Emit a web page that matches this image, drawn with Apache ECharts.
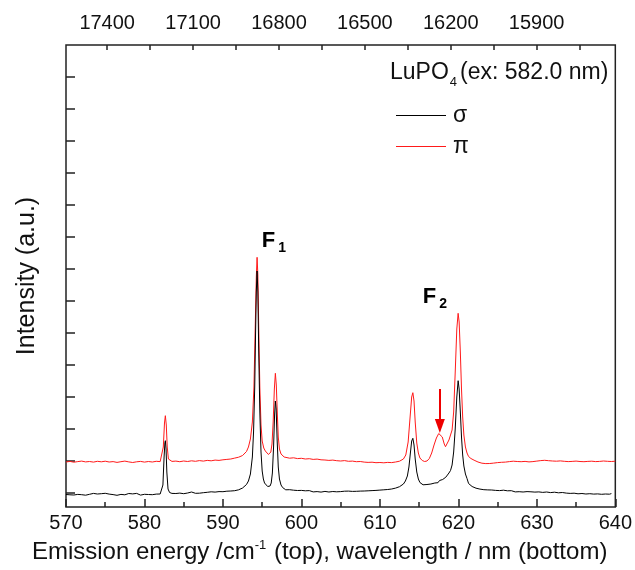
<!DOCTYPE html>
<html>
<head>
<meta charset="utf-8">
<script src="https://cdn.jsdelivr.net/npm/echarts@6/dist/echarts.min.js"></script>
<style>html,body{margin:0;padding:0;background:#fff}#c{width:635px;height:570px}</style>
</head>
<body>
<div id="c"></div>
<script>
// ---- data ----
const sigmaX = [570,570.25,570.5,570.75,571,571.25,571.5,571.75,572,572.25,572.5,572.75,573,573.25,573.5,573.75,574,574.25,574.5,574.75,575,575.25,575.5,575.75,576,576.25,576.5,576.75,577,577.25,577.5,577.75,578,578.25,578.5,578.75,579,579.25,579.5,579.75,580,580.25,580.5,580.75,581,581.25,581.5,581.75,582,582.2,582.35,582.5,582.6,582.66,582.75,582.85,583,583.2,583.5,583.75,584,584.25,584.5,584.75,585,585.25,585.5,585.75,586,586.25,586.5,586.75,587,587.25,587.5,587.75,588,588.25,588.5,588.75,589,589.25,589.5,589.75,590,590.25,590.5,590.75,591,591.25,591.5,591.75,592,592.25,592.5,592.75,593,593.25,593.5,593.75,593.9,594.05,594.15,594.25,594.35,594.45,594.55,594.7,594.85,595,595.15,595.3,595.5,595.7,595.85,596,596.15,596.3,596.45,596.58,596.68,596.78,596.9,597.05,597.2,597.4,597.6,597.8,598,598.25,598.5,598.75,599,599.25,599.5,599.75,600,600.25,600.5,600.75,601,601.25,601.5,601.75,602,602.25,602.5,602.75,603,603.25,603.5,603.75,604,604.25,604.5,604.75,605,605.25,605.5,605.75,606,606.25,606.5,606.75,607,607.25,607.5,607.75,608,608.25,608.5,608.75,609,609.25,609.5,609.75,610,610.25,610.5,610.75,611,611.25,611.5,611.75,612,612.25,612.5,612.75,613,613.25,613.5,613.7,613.9,614.05,614.2,614.35,614.5,614.7,614.9,615.1,615.3,615.5,615.75,616,616.25,616.5,616.75,617,617.2,617.4,617.6,617.8,618,618.2,618.4,618.6,618.8,619,619.2,619.4,619.6,619.8,619.97,620.1,620.25,620.4,620.55,620.7,620.9,621.1,621.3,621.5,621.75,622,622.25,622.5,622.75,623,623.25,623.5,623.75,624,624.25,624.5,624.75,625,625.25,625.5,625.75,626,626.25,626.5,626.75,627,627.25,627.5,627.75,628,628.25,628.5,628.75,629,629.25,629.5,629.75,630,630.25,630.5,630.75,631,631.25,631.5,631.75,632,632.25,632.5,632.75,633,633.25,633.5,633.75,634,634.25,634.5,634.75,635,635.25,635.5,635.75,636,636.25,636.5,636.75,637,637.25,637.5,637.75,638,638.25,638.5,638.75,639,639.25,639.5,639.75,640];
const sigmaY = [12.5,13.8,12.2,13.5,12.0,13.2,12.6,14.0,12.3,13.1,11.8,13.4,12.7,12.0,13.6,12.4,13.0,11.9,13.3,12.5,13.7,12.1,12.9,13.8,12.4,13.0,11.7,13.2,12.6,13.9,12.2,12.8,13.5,12.0,13.1,12.4,13.6,12.8,11.9,13.3,12.7,13.9,12.5,13.2,12.3,13.7,12.9,13.4,13.0,14.5,22,50,64,66.3,58,35,18,14.5,13.6,14.4,13.5,14.8,13.9,14.2,13.3,14.9,14.0,13.6,15.0,14.1,13.7,14.6,13.8,15.1,14.3,13.9,14.7,14.0,15.2,14.4,14.9,14.1,15.4,14.6,15.3,14.7,15.8,15.0,16.0,15.4,16.3,16.8,17.2,17.9,19.0,20.5,22.5,26,33,50,75,120,170,215,236,215,160,95,55,36,28,24,22,20.5,20,21,24,34,60,92,106,98,68,40,28,22,19.5,18,17.2,16.5,17.3,16.0,16.8,15.7,16.5,15.4,16.6,15.5,16.2,15.0,16.4,15.6,15.1,16.3,15.4,16.0,14.9,16.5,15.6,16.2,15.0,16.1,15.5,16.7,15.2,16.0,15.4,16.3,15.8,17.0,15.9,16.5,15.6,16.4,15.7,16.6,15.9,16.8,16.0,16.7,16.2,17.1,16.4,17.3,16.6,17.5,16.9,17.8,17.2,18.0,17.5,18.3,18.0,18.8,18.9,19.6,20.3,21.5,23,26,31,40,55,66,68.7,62,48,35,28,24.5,23,22.2,21.5,22.5,21.8,23.0,22.6,24.0,25.5,24.3,26.5,25.8,27.5,28.6,29.8,31.5,34,36.5,42,55,78,110,126.3,118,95,70,52,41,33,28.5,23.5,22,20.5,19.5,18.8,17.5,17.9,16.8,17.3,16.5,17.1,16.2,17.0,15.9,16.6,15.7,16.4,15.5,16.8,15.4,16.2,15.2,16.3,15.9,15.1,16.4,15.3,16.0,15.0,16.1,15.4,16.3,15.2,15.8,14.9,16.0,15.1,15.7,14.6,15.9,15.0,15.5,14.4,15.6,14.8,15.3,14.2,15.4,14.5,15.1,13.9,14.8,13.6,14.9,13.8,14.5,13.2,14.6,13.5,14.2,13.0,14.4,13.3,14.0,12.9,14.3,13.1,13.8,12.7,14.1,13.0,13.6,12.8,13.4];
const piX = [570,570.5,571,571.5,572,572.5,573,573.5,574,574.5,575,575.5,576,576.5,577,577.5,578,578.5,579,579.5,580,580.5,581,581.5,582,582.25,582.4,582.55,582.66,582.78,582.9,583.05,583.25,583.5,584,584.5,585,585.5,586,586.5,587,587.5,588,588.5,589,589.5,590,590.5,591,591.5,592,592.5,592.75,593,593.25,593.5,593.75,593.95,594.1,594.25,594.35,594.45,594.55,594.7,594.85,595,595.2,595.4,595.6,595.8,595.95,596.1,596.25,596.4,596.55,596.68,596.8,596.92,597.05,597.2,597.4,597.6,597.8,598,598.5,599,599.5,600,600.5,601,601.5,602,602.5,603,603.5,604,604.5,605,605.5,606,606.5,607,607.5,608,608.5,609,609.5,610,610.5,611,611.5,612,612.5,613,613.3,613.6,613.85,614.05,614.2,614.35,614.5,614.7,614.9,615.1,615.4,615.7,616,616.3,616.6,616.9,617.2,617.5,617.73,617.95,618.2,618.36,618.55,618.8,619,619.2,619.4,619.6,619.8,619.97,620.1,620.25,620.4,620.55,620.7,620.9,621.1,621.3,621.6,622,622.5,623,623.5,624,624.5,625,625.5,626,626.5,627,627.5,628,628.5,629,629.5,630,630.5,631,631.5,632,632.5,633,633.5,634,634.5,635,635.5,636,636.5,637,637.5,638,638.5,639,639.5,640];
const piY = [45.0,45.6,44.8,45.4,45.9,45.1,45.5,44.9,45.7,45.2,45.8,45.0,45.4,44.6,45.3,45.9,45.1,44.5,45.2,45.6,44.9,45.5,45.0,45.7,45.4,46.5,60,84,91.3,82,60,48,46,45.6,45.9,45.3,46.0,45.5,46.2,45.7,46.4,45.9,46.6,46.2,46.9,46.6,47.2,47.6,48.0,48.9,49.8,51.5,53,55.5,60,68,85,120,175,230,249.7,232,185,120,82,66,59,56,54,52.5,52.5,55,63,85,118,133.7,122,95,70,58,53,51,50,49.6,48.8,49.2,48.4,48.7,48.0,48.3,47.6,47.9,47.2,47.0,46.6,46.9,46.3,46.0,46.4,45.7,45.9,45.3,45.5,44.9,44.6,44.8,44.3,44.5,44.2,44.6,44.4,45.0,45.8,48,52,65,90,110,114.3,106,85,64,54,49,46.5,45.5,46,48.5,54,62,69,73.5,74.3,70,63,60.3,62,67,72,77,95,135,178,193.7,185,155,118,90,72,60,54,50.5,48.5,46.8,45.0,43.8,43.4,43.5,43.9,44.4,44.7,44.9,45.4,45.8,45.5,45.3,45.6,45.1,45.4,45.9,46.4,46.7,46.3,46.0,45.8,46.1,45.7,45.4,45.6,45.9,45.5,45.3,45.6,45.8,45.4,45.6,46.0,45.7,45.5,45.8];
const bottomTicks = {min: 570, max: 640, step: 10};
const topTickValues = [15750,15900,16050,16200,16350,16500,16650,16800,16950,17100,17250,17400];
const topLabelValues = [15900,16200,16500,16800,17100,17400];
const yTickValues = [14,46,78,110,142,174,206,238,270,302,334,366,398,430];
const seriesNames = ['σ', 'π'];
const arrowAt = {x: 617.64, from: 118, to: 81};
const f1At = [596.5, 266];
const f2At = [617.0, 210];

const zip = (xs, ys) => xs.map((x, i) => [x, ys[i]]);
const FONT = 'Liberation Sans, Arial, sans-serif';
const chart = echarts.init(document.getElementById('c'), null, {renderer: 'canvas'});

chart.setOption({
  animation: false,
  backgroundColor: '#fff',
  textStyle: {fontFamily: FONT},
  grid: {left: 66, right: 18, top: 45, bottom: 63, show: true, borderColor: '#222', borderWidth: 1.5, backgroundColor: 'transparent'},
  xAxis: [{
    type: 'value', position: 'bottom', min: bottomTicks.min, max: bottomTicks.max, interval: bottomTicks.step,
    axisLine: {show: false},
    axisTick: {show: true, inside: true, length: 8, lineStyle: {color: '#222', width: 1.5}},
    minorTick: {show: true, splitNumber: 2, length: 5, lineStyle: {color: '#222', width: 1.5}},
    axisLabel: {fontSize: 20, color: '#111', margin: 6, fontFamily: FONT},
    splitLine: {show: false},
    name: '{a|Emission energy /cm}{s|-1}{a| (top), wavelength / nm (bottom)}',
    nameLocation: 'middle', nameGap: 32,
    nameTextStyle: {padding: [0, 42, 0, 0], rich: {a: {fontSize: 24, color: '#111', fontFamily: FONT}, s: {fontSize: 13, color: '#111', fontFamily: FONT, padding: [0, 1, 14, 0]}}}
  }, {
    type: 'value', position: 'top', inverse: true, min: 1e7 / 640, max: 1e7 / 570,
    axisLine: {show: false},
    axisTick: {show: true, inside: true, length: 5, customValues: topTickValues, lineStyle: {color: '#222', width: 1.5}},
    axisLabel: {fontSize: 20, color: '#111', margin: 12, customValues: topLabelValues, fontFamily: FONT, formatter: v => String(Math.round(v))},
    splitLine: {show: false}
  }],
  yAxis: [{
    type: 'value', min: 0, max: 462,
    axisLine: {show: false},
    axisTick: {show: true, inside: true, length: 9, customValues: yTickValues, lineStyle: {color: '#222', width: 1.5}},
    axisLabel: {show: false},
    splitLine: {show: false},
    name: 'Intensity (a.u.)', nameLocation: 'middle', nameGap: 26,
    nameTextStyle: {fontSize: 25, color: '#111', fontFamily: FONT}
  }],
  legend: {
    data: seriesNames, orient: 'vertical', left: 391, top: 99,
    icon: 'rect', itemWidth: 50, itemHeight: 1, itemGap: 8,
    textStyle: {fontSize: 23, color: '#111', fontFamily: FONT, padding: [0, 0, 0, 2]}
  },
  graphic: [{
    type: 'text', left: 390, top: 61,
    style: {
      text: '{a|LuPO}{b|4}{a|(ex: 582.0 nm)}',
      rich: {a: {fontSize: 23, fill: '#111', fontFamily: FONT}, b: {fontSize: 13, fill: '#111', fontFamily: FONT, padding: [20, 3, 0, 1]}}
    }
  }],
  series: [{
    name: seriesNames[1], type: 'line', xAxisIndex: 0, yAxisIndex: 0,
    data: zip(piX, piY), symbol: 'none', showSymbol: false,
    lineStyle: {color: '#ff1a1a', width: 1}, itemStyle: {color: '#ff1a1a'}, z: 2,
    markLine: {
      silent: true, symbol: ['none', 'triangle'], symbolSize: [10, 14],
      lineStyle: {color: '#ee0000', width: 2, type: 'solid'}, label: {show: false},
      data: [[{coord: [arrowAt.x, arrowAt.from]}, {coord: [arrowAt.x, arrowAt.to]}]]
    }
  }, {
    name: seriesNames[0], type: 'line', xAxisIndex: 0, yAxisIndex: 0,
    data: zip(sigmaX, sigmaY), symbol: 'none', showSymbol: false,
    lineStyle: {color: '#000', width: 1}, itemStyle: {color: '#000'}, z: 3,
    markPoint: {
      symbol: 'circle', symbolSize: 0, silent: true,
      label: {
        show: true, position: 'inside',
        formatter: p => p.name === 'F1' ? '{f|F}{s|1}' : '{f|F}{s|2}',
        rich: {f: {fontSize: 22, fontWeight: 'bold', color: '#000', fontFamily: FONT}, s: {fontSize: 14, fontWeight: 'bold', color: '#000', fontFamily: FONT, padding: [14, 0, 0, 3]}}
      },
      data: [{name: 'F1', coord: f1At}, {name: 'F2', coord: f2At}]
    }
  }]
});
</script>
</body>
</html>
